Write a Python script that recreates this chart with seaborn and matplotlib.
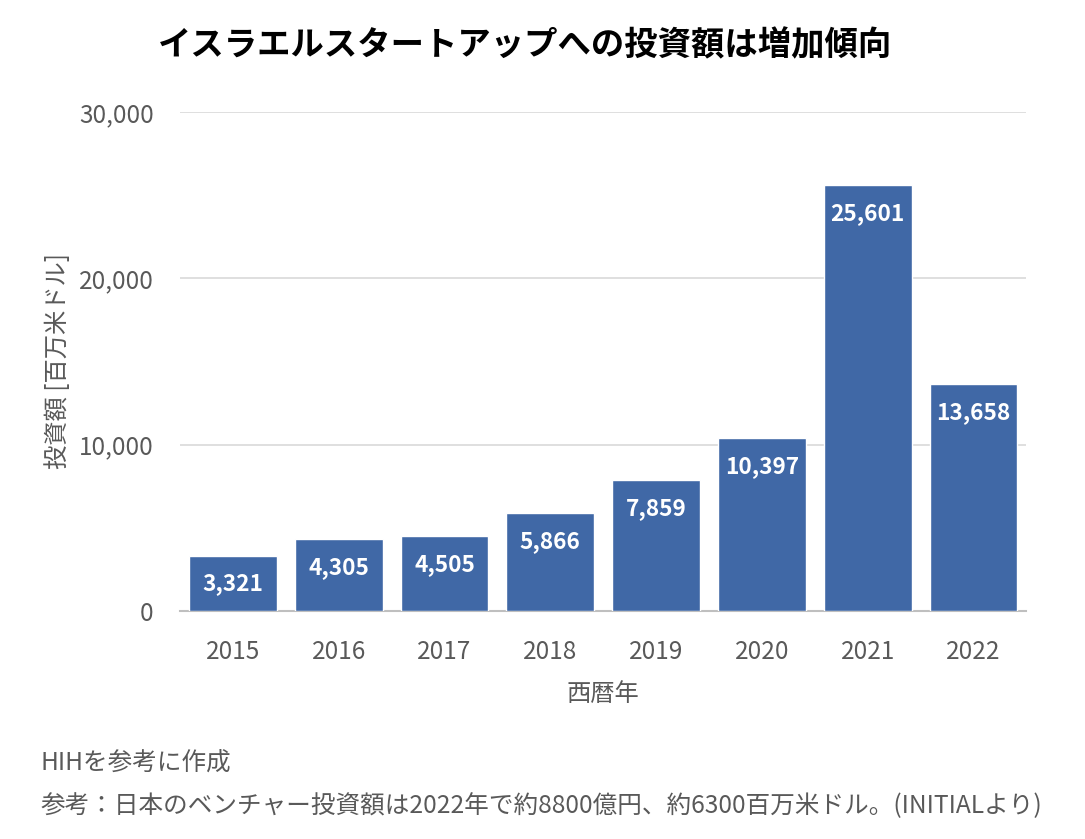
import seaborn as sns
import matplotlib.pyplot as plt
import pandas as pd

# データ
years = ['2015', '2016', '2017', '2018', '2019', '2020', '2021', '2022']
amounts = [3321, 4305, 4505, 5866, 7859, 10397, 25601, 13658]
y_ticks = [0, 10000, 20000, 30000]

df = pd.DataFrame({'year': years, 'amount': amounts})

sns.set_style('white')
plt.rcParams['font.family'] = ['Noto Sans CJK JP', 'DejaVu Sans']

fig = plt.figure(figsize=(10.85, 8.39), dpi=100)
ax = fig.add_axes([0.166, 0.272, 0.780, 0.5945])

sns.barplot(data=df, x='year', y='amount', color='#4068a6', saturation=1,
            width=0.83, ax=ax, zorder=3)

# 棒の中に数値
for i, v in enumerate(amounts):
    ax.annotate(f'{v:,}', (i, v), xytext=(0, -20.5), textcoords='offset points',
                ha='center', va='center', color='white', fontsize=16.3,
                fontweight='bold')

ax.set_ylim(0, 30000)
ax.set_yticks(y_ticks)
ax.set_yticklabels([f'{t:,}' for t in y_ticks])
ax.tick_params(axis='both', length=0, labelsize=17.5, labelcolor='#595959')
ax.tick_params(axis='x', pad=20)
ax.tick_params(axis='y', pad=19)
ax.grid(axis='y', color='#d9d9d9', linewidth=1.2, zorder=0)
for s in ['top', 'right', 'left']:
    ax.spines[s].set_visible(False)
ax.spines['bottom'].set_color('#bfbfbf')
ax.spines['bottom'].set_linewidth(1.5)

ax.set_xlabel('西暦年', fontsize=17.5, color='#595959', labelpad=12)
ax.set_ylabel('投資額 [百万米ドル]', fontsize=17.5, color='#595959', labelpad=6)

fig.text(0.484, 0.945, 'イスラエルスタートアップへの投資額は増加傾向',
         ha='center', va='center', fontsize=24, fontweight='bold', color='black')
fig.text(0.037, 0.091, 'HIHを参考に作成', ha='left', va='center',
         fontsize=17.7, color='#595959')
fig.text(0.037, 0.039,
         '参考：日本のベンチャー投資額は2022年で約8800億円、約6300百万米ドル。(INITIALより)',
         ha='left', va='center', fontsize=17.7, color='#595959')

fig.savefig('out.png', dpi=100, facecolor='white')
